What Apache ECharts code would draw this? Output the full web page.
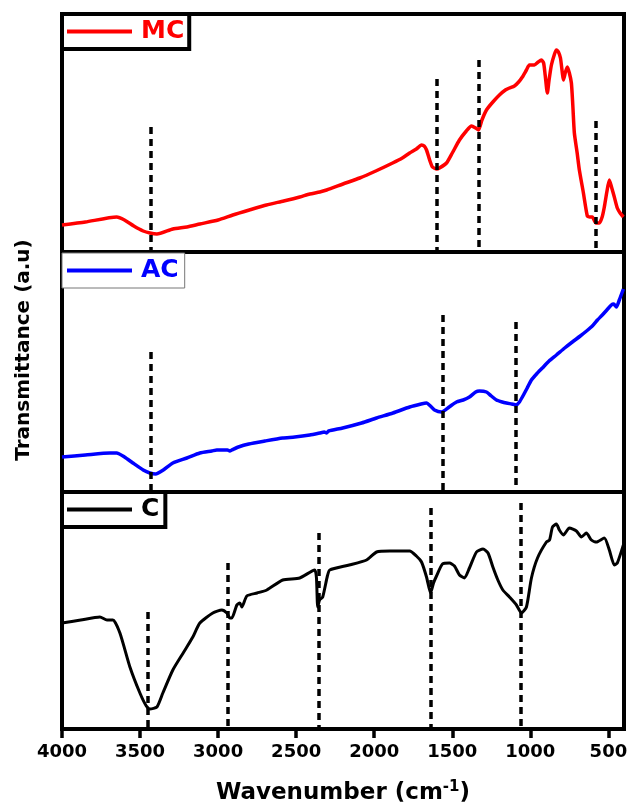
<!DOCTYPE html>
<html>
<head>
<meta charset="utf-8">
<script src="https://cdn.jsdelivr.net/npm/echarts@6/dist/echarts.min.js"></script>
<style>html,body{margin:0;padding:0;background:#fff;}#c{width:628px;height:805px;}</style>
</head>
<body>
<div id="c"></div>
<script>
// Wavenumber tick labels (cm-1)
const xTicks = [4000, 3500, 3000, 2500, 2000, 1500, 1000, 500];

// MC spectrum: [wavenumber, transmittance a.u.]
const mcData = [
  [4000,25],[3850,28],[3650,33],[3600,30],[3540,24],[3480,19],[3437,17],[3392,16],[3290,21],[3200,23],
  [3117,26],[3000,30],[2906,35],[2800,40],[2690,45],[2580,49],[2477,53],[2413,56],[2349,58],[2305,60],
  [2200,66],[2093,72],[1990,79],[1882,87],[1820,92],[1773,97],[1730,101],[1697,105],[1680,104],[1665,100],
  [1645,90],[1627,83],[1600,81],[1582,82],[1537,87],[1500,97],[1454,110],[1410,119],[1377,124],[1350,122],
  [1332,120],[1310,130],[1281,140],[1240,148],[1198,155],[1160,160],[1134,162],[1102,164],[1075,168],[1051,173],
  [1025,180],[1006,185],[974,185],[950,188],[929,190],[915,187],[905,175],[891,157],[880,170],[865,185],
  [845,196],[833,200],[820,198],[807,192],[795,177],[788,170],[775,178],[763,183],[750,177],[737,167],
  [728,145],[718,117],[700,97],[686,80],[660,57],[635,34],[620,33],[603,33],[580,27],[558,27],
  [540,33],[526,43],[510,58],[494,70],[480,63],[462,53],[443,42],[425,37],[404,33]
];

// AC spectrum
const acData = [
  [4000,33],[3850,35],[3693,37],[3650,37],[3600,33],[3546,27],[3480,20],[3437,17],[3400,16],[3351,20],
  [3290,27],[3200,32],[3117,37],[3040,39],[3008,40],[2940,40],[2925,39],[2912,40],[2870,43],[2804,46],
  [2700,49],[2586,52],[2509,53],[2413,55],[2349,57],[2320,58],[2305,57],[2292,59],[2202,62],[2081,67],
  [1985,72],[1880,77],[1773,83],[1700,86],[1665,87],[1640,84],[1614,80],[1569,78],[1520,83],[1473,88],
  [1430,90],[1390,93],[1350,98],[1326,99],[1281,98],[1250,94],[1217,90],[1180,88],[1153,87],[1120,86],
  [1089,85],[1070,88],[1051,93],[1020,102],[993,110],[960,116],[923,122],[880,129],[833,135],[780,142],
  [731,148],[680,154],[640,159],[603,164],[570,170],[539,175],[510,180],[481,185],[466,186],[449,183],
  [430,190],[404,201]
];

// C spectrum
const cData = [
  [4000,105],[3880,108],[3757,111],[3712,108],[3674,108],[3629,95],[3565,61],[3501,35],[3460,22],[3437,19],
  [3392,21],[3354,35],[3290,58],[3220,76],[3162,91],[3117,105],[3034,115],[2976,118],[2944,115],[2925,110],
  [2912,110],[2880,123],[2861,125],[2848,121],[2816,132],[2750,135],[2688,138],[2586,148],[2477,150],[2381,158],
  [2370,150],[2362,121],[2350,128],[2330,131],[2300,152],[2285,158],[2160,163],[2049,168],[1985,176],[1900,177],
  [1834,177],[1773,177],[1730,172],[1697,166],[1665,151],[1639,135],[1620,145],[1601,152],[1563,164],[1518,165],
  [1486,162],[1454,153],[1422,150],[1390,160],[1345,176],[1303,179],[1271,175],[1240,161],[1208,148],[1176,138],
  [1134,131],[1089,123],[1057,115],[1025,121],[993,150],[954,170],[897,186],[877,188],[858,201],[833,204],
  [814,198],[788,193],[750,200],[705,197],[673,191],[641,195],[609,188],[577,186],[526,190],[494,178],
  [462,163],[443,165],[410,180],[400,185]
];

// Peak markers: [wavenumber, top of dashed line (a.u.)]
const mcPeaks = [[3434,123],[1601,171],[1332,190],[584,129]];
const acPeaks = [[3434,138],[1562,175],[1095,168]];
const cPeaks  = [[3450,116],[2938,165],[2356,195],[1639,220],[1059,225]];

const FONT = 'DejaVu Sans';
const chart = echarts.init(document.getElementById('c'), null, {renderer: 'canvas'});

const grids = [
  {left: 62, right: 4, top: 14, height: 238, show: true, borderColor: '#000', borderWidth: 4, z: 3, containLabel: false, outerBoundsMode: 'none'},
  {left: 62, right: 4, top: 252, height: 240, show: true, borderColor: '#000', borderWidth: 4, z: 3, containLabel: false, outerBoundsMode: 'none'},
  {left: 62, right: 4, top: 492, height: 237, show: true, borderColor: '#000', borderWidth: 4, z: 3, containLabel: false, outerBoundsMode: 'none'}
];
const yRanges = [[-2, 236], [-2, 238], [-1, 236]];

function xAxisFor(i) {
  const bottom = i === 2;
  return {
    type: 'value', gridIndex: i, min: 400, max: 4000, inverse: true,
    splitLine: {show: false},
    axisLine: {show: bottom, onZero: false, lineStyle: {color: '#000', width: 4}},
    axisTick: {show: bottom, customValues: xTicks, length: 9, lineStyle: {color: '#000', width: 3.5}},
    axisLabel: {show: bottom, customValues: xTicks, margin: 14, color: '#000',
      fontFamily: FONT, fontWeight: 'bold', fontSize: 18, formatter: v => String(v)},
    name: bottom ? 'Wavenumber (cm{sup|-1})' : '',
    nameLocation: 'middle', nameGap: 51,
    nameTextStyle: {color: '#000', fontFamily: FONT, fontWeight: 'bold', fontSize: 23,
      rich: {sup: {fontFamily: FONT, fontWeight: 'bold', fontSize: 15, color: '#000', verticalAlign: 'top', padding: [0, 0, 12, 0]}}}
  };
}
function yAxisFor(i) {
  return {type: 'value', gridIndex: i, min: yRanges[i][0], max: yRanges[i][1],
    show: true, axisLine: {show: false}, axisTick: {show: false}, axisLabel: {show: false}, splitLine: {show: false}};
}
function marks(peaks, yMin) {
  return {
    symbol: 'none', silent: true, animation: false,
    label: {show: false},
    lineStyle: {color: '#000', type: [7, 5], width: 3.5},
    data: peaks.map(p => [{coord: [p[0], p[1]]}, {coord: [p[0], yMin]}])
  };
}
function legendFor(name, color, top, border, bw, width) {
  return {
    left: 62, top: top, orient: 'horizontal', selectedMode: false,
    data: [{name: name, textStyle: {color: color}}],
    icon: 'rect', itemWidth: 65, itemHeight: 4,
    borderColor: border, borderWidth: bw, padding: [5, width, 5, 5],
    backgroundColor: '#fff',
    textStyle: {fontFamily: FONT, fontWeight: 'bold', fontSize: 25, padding: [0, 0, 0, 4]}
  };
}

chart.setOption({
  animation: false,
  grid: grids,
  xAxis: [0, 1, 2].map(xAxisFor),
  yAxis: [0, 1, 2].map(yAxisFor),
  legend: [
    legendFor('MC', '#ff0000', 14, '#000', 4, 5),
    legendFor('AC', '#0000ff', 253, '#777', 1, 6),
    legendFor('C', '#000000', 492, '#000', 4, 6)
  ],
  series: [
    {name: 'MC', type: 'line', xAxisIndex: 0, yAxisIndex: 0, data: mcData, showSymbol: false, smooth: 0.2,
      color: '#ff0000', lineStyle: {width: 3.5, color: '#ff0000'}, markLine: marks(mcPeaks, -2)},
    {name: 'AC', type: 'line', xAxisIndex: 1, yAxisIndex: 1, data: acData, showSymbol: false, smooth: 0.2,
      color: '#0000ff', lineStyle: {width: 3.5, color: '#0000ff'}, markLine: marks(acPeaks, -2)},
    {name: 'C', type: 'line', xAxisIndex: 2, yAxisIndex: 2, data: cData, showSymbol: false, smooth: 0.2,
      color: '#000000', lineStyle: {width: 3, color: '#000000'}, markLine: marks(cPeaks, -1)}
  ],
  graphic: [{
    type: 'text', x: 24, y: 350, rotation: Math.PI / 2,
    style: {text: 'Transmittance (a.u)', font: 'bold 20px "DejaVu Sans"', fill: '#000',
      align: 'center', verticalAlign: 'middle'}
  }]
});
</script>
</body>
</html>
